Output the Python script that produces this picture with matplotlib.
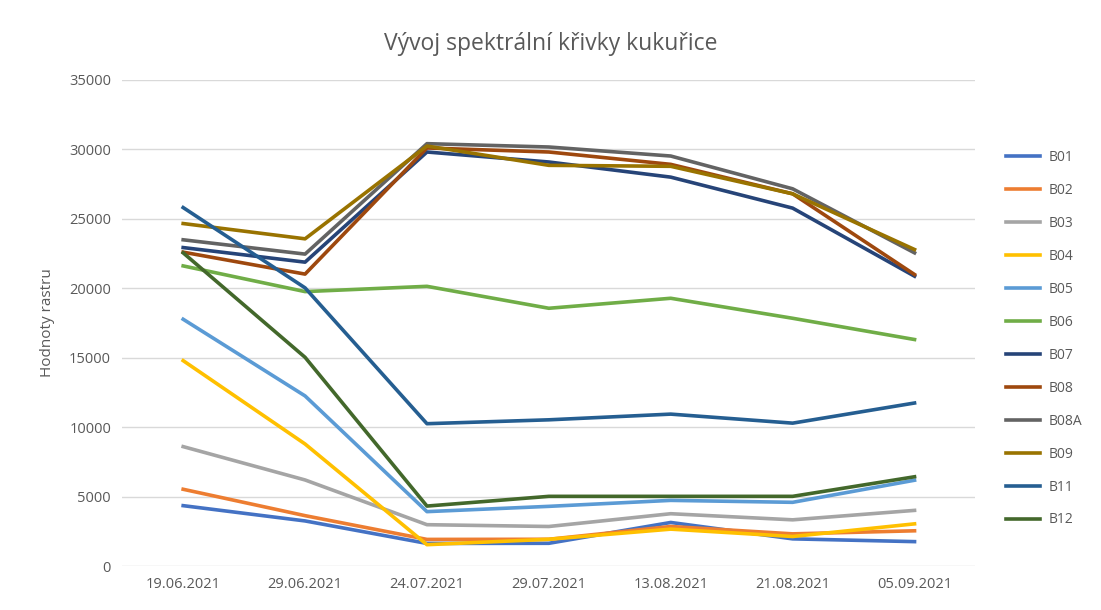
import matplotlib
matplotlib.use("Agg")
import matplotlib.pyplot as plt

plt.rcParams['font.family'] = ['Open Sans', 'DejaVu Sans']

dates = ["19.06.2021", "29.06.2021", "24.07.2021", "29.07.2021", "13.08.2021", "21.08.2021", "05.09.2021"]

B01 = [4350, 3250, 1630, 1640, 3140, 1960, 1760]
B02 = [5530, 3630, 1920, 1930, 2850, 2320, 2540]
B03 = [8600, 6200, 2980, 2850, 3770, 3330, 4010]
B04 = [14790, 8790, 1540, 1930, 2660, 2130, 3040]
B05 = [17770, 12250, 3920, 4300, 4730, 4590, 6180]
B06 = [21610, 19760, 20140, 18560, 19280, 17840, 16310]
B07 = [22930, 21880, 29810, 29090, 28000, 25770, 20870]
B08 = [22600, 21020, 30100, 29810, 28920, 26800, 20990]
B08A = [23490, 22460, 30410, 30170, 29520, 27160, 22550]
B09 = [24660, 23560, 30240, 28850, 28780, 26800, 22790]
B11 = [25810, 20030, 10250, 10530, 10940, 10290, 11740]
B12 = [22550, 15030, 4320, 5020, 5020, 5020, 6430]

names = ["B01", "B02", "B03", "B04", "B05", "B06", "B07", "B08", "B08A", "B09", "B11", "B12"]
series = [B01, B02, B03, B04, B05, B06, B07, B08, B08A, B09, B11, B12]
colors = ["#4472C4", "#ED7D31", "#A5A5A5", "#FFC000", "#5B9BD5", "#70AD47",
          "#264478", "#9E480E", "#636363", "#997300", "#255E91", "#43682B"]

fig = plt.figure(figsize=(11.01, 6.10), dpi=100)
ax = fig.add_axes([0.111, 0.072, 0.775, 0.797])

x = range(len(dates))
for name, vals, c in zip(names, series, colors):
    ax.plot(x, vals, color=c, lw=2.6, label=name, solid_joinstyle='round')

ax.set_xlim(-0.5, len(dates) - 0.5)
ax.set_ylim(0, 35000)
ax.set_yticks(range(0, 35001, 5000))
ax.set_xticks(list(x))
ax.set_xticklabels(dates)
ax.tick_params(colors="#595959", labelsize=10.5, length=0, pad=8)
ax.grid(axis='y', color="#D9D9D9", lw=1)
ax.set_axisbelow(True)
for s in ax.spines.values():
    s.set_visible(False)
ax.set_ylabel("Hodnoty rastru", color="#595959", fontsize=11, labelpad=10)

fig.suptitle("Vývoj spektrální křivky kukuřice", y=0.948, fontsize=16.5, color="#595959")

fig.legend(loc='upper left', bbox_to_anchor=(0.902, 0.774), frameon=False,
           fontsize=10, labelspacing=1.29, handlelength=2.5, handletextpad=0.6,
           labelcolor="#595959")

fig.savefig("out.png", dpi=100)
